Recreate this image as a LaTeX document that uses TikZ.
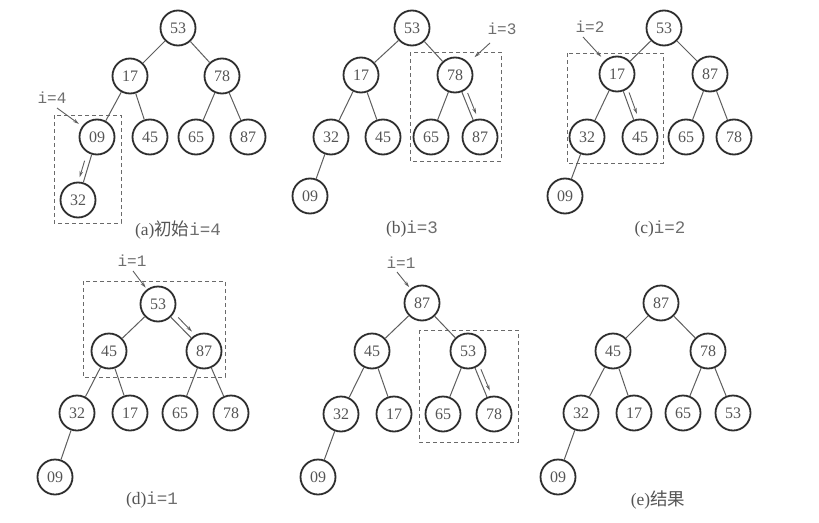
\documentclass[tikz,border=0pt]{standalone}
\usepackage{fontspec}
\setmainfont{Liberation Serif}
\setmonofont{Liberation Mono}
\newfontfamily\cjk{Noto Sans CJK SC}
\usetikzlibrary{arrows.meta,calc}
\definecolor{ring}{HTML}{2E2E2E}
\definecolor{txt}{HTML}{555555}
\definecolor{mono}{HTML}{6E6E6E}
\definecolor{ln}{HTML}{5E5E5E}
\definecolor{dsh}{HTML}{6A6A6A}
\tikzset{
  nd/.style={circle,draw=ring,line width=1.8pt,minimum size=35pt,inner sep=0pt,text=txt,font=\fontsize{16}{16}\selectfont},
  edge/.style={draw=ln,line width=1pt},
  swp/.style={draw=ln,line width=0.9pt,-{Stealth[length=6pt,width=3.5pt]}},
  ptr/.style={draw=ln,line width=0.9pt,-{Stealth[length=6pt,width=3.5pt]}},
  lbl/.style={text=mono,font=\ttfamily\fontsize{16}{16}\selectfont,inner sep=0pt},
  captext/.style={text=txt,font=\fontsize{17.5}{17.5}\selectfont,inner sep=0pt},
  dbox/.style={draw=dsh,line width=1pt,dash pattern=on 4pt off 3pt},
}
\newcommand\swapar[5]{\draw[swp] ($(#1)!#3!(#2)!5pt!#5:(#2)$) -- ($(#1)!#4!(#2)!5pt!#5:(#2)$);}
\newcommand\mi[1]{{\ttfamily\color{mono}#1}}
\begin{document}
\begin{tikzpicture}[x=1pt,y=-1pt]
\fill[white] (0,0) rectangle (819,522);
\useasboundingbox (0,0) rectangle (819,522);

% ---------- (a)
\draw[dbox] (54,115) rectangle (121,223);
\node[nd] (a1) at (178,28) {53};
\node[nd] (a2) at (130,76) {17};
\node[nd] (a3) at (222,76) {78};
\node[nd] (a4) at (97,137) {09};
\node[nd] (a5) at (150,137) {45};
\node[nd] (a6) at (196,137) {65};
\node[nd] (a7) at (248,137) {87};
\node[nd] (a8) at (78,200) {32};
\draw[edge] (a1)--(a2) (a1)--(a3) (a2)--(a4) (a2)--(a5) (a3)--(a6) (a3)--(a7) (a4)--(a8);
\swapar{a4}{a8}{0.40}{0.66}{-90}
\node[lbl] (la) at (52,98) {i=4};
\coordinate (sa) at (57,108);
\draw[ptr,shorten >=4pt] (sa) -- (a4);
\node[captext] (ca) at (178,230) {(a){\cjk 初始}\mi{i=4}};

% ---------- (b)
\draw[dbox] (410,52) rectangle (501,161);
\node[nd] (b1) at (412,28) {53};
\node[nd] (b2) at (361,75) {17};
\node[nd] (b3) at (455,75) {78};
\node[nd] (b4) at (331,137) {32};
\node[nd] (b5) at (383,137) {45};
\node[nd] (b6) at (431,137) {65};
\node[nd] (b7) at (480,137) {87};
\node[nd] (b8) at (310,196) {09};
\draw[edge] (b1)--(b2) (b1)--(b3) (b2)--(b4) (b2)--(b5) (b3)--(b6) (b3)--(b7) (b4)--(b8);
\swapar{b3}{b7}{0.32}{0.66}{90}
\node[lbl] (lb) at (502,29) {i=3};
\coordinate (sb) at (490,43);
\draw[ptr,shorten >=8pt] (sb) -- (b3);
\node[captext] (cb) at (412,229) {(b)\mi{i=3}};

% ---------- (c)
\draw[dbox] (567,53) rectangle (663,163);
\node[nd] (c1) at (664,28) {53};
\node[nd] (c2) at (617,74) {17};
\node[nd] (c3) at (710,74) {87};
\node[nd] (c4) at (587,137) {32};
\node[nd] (c5) at (640,137) {45};
\node[nd] (c6) at (686,137) {65};
\node[nd] (c7) at (734,137) {78};
\node[nd] (c8) at (565,196) {09};
\draw[edge] (c1)--(c2) (c1)--(c3) (c2)--(c4) (c2)--(c5) (c3)--(c6) (c3)--(c7) (c4)--(c8);
\swapar{c2}{c5}{0.32}{0.66}{90}
\node[lbl] (lc) at (590,27) {i=2};
\coordinate (sc) at (583,37);
\draw[ptr,shorten >=5pt] (sc) -- (c2);
\node[captext] (cc) at (660,229) {(c)\mi{i=2}};

% ---------- (d)
\draw[dbox] (83,281) rectangle (225,377);
\node[nd] (d1) at (158,304) {53};
\node[nd] (d2) at (109,351) {45};
\node[nd] (d3) at (204,351) {87};
\node[nd] (d4) at (77,413) {32};
\node[nd] (d5) at (130,413) {17};
\node[nd] (d6) at (180,413) {65};
\node[nd] (d7) at (231,413) {78};
\node[nd] (d8) at (55,477) {09};
\draw[edge] (d1)--(d2) (d1)--(d3) (d2)--(d4) (d2)--(d5) (d3)--(d6) (d3)--(d7) (d4)--(d8);
\swapar{d1}{d3}{0.36}{0.66}{90}
\node[lbl] (ld) at (132,261) {i=1};
\coordinate (sd) at (133,271);
\draw[ptr,shorten >=2pt] (sd) -- (d1);
\node[captext] (cd) at (152,500) {(d)\mi{i=1}};

% ---------- (e) middle bottom
\draw[dbox] (419,330) rectangle (518,442);
\node[nd] (e1) at (422,303) {87};
\node[nd] (e2) at (372,351) {45};
\node[nd] (e3) at (468,351) {53};
\node[nd] (e4) at (341,414) {32};
\node[nd] (e5) at (394,414) {17};
\node[nd] (e6) at (443,414) {65};
\node[nd] (e7) at (494,414) {78};
\node[nd] (e8) at (318,477) {09};
\draw[edge] (e1)--(e2) (e1)--(e3) (e2)--(e4) (e2)--(e5) (e3)--(e6) (e3)--(e7) (e4)--(e8);
\swapar{e3}{e7}{0.32}{0.66}{90}
\node[lbl] (le) at (401,263) {i=1};
\coordinate (se) at (397,272);
\draw[ptr,shorten >=2pt] (se) -- (e1);

% ---------- (f) result
\node[nd] (f1) at (661,303) {87};
\node[nd] (f2) at (613,351) {45};
\node[nd] (f3) at (708,351) {78};
\node[nd] (f4) at (581,413) {32};
\node[nd] (f5) at (634,413) {17};
\node[nd] (f6) at (683,413) {65};
\node[nd] (f7) at (733,413) {53};
\node[nd] (f8) at (558,477) {09};
\draw[edge] (f1)--(f2) (f1)--(f3) (f2)--(f4) (f2)--(f5) (f3)--(f6) (f3)--(f7) (f4)--(f8);
\node[captext] (cf) at (658,500) {(e){\cjk 结果}};
\end{tikzpicture}
\end{document}
